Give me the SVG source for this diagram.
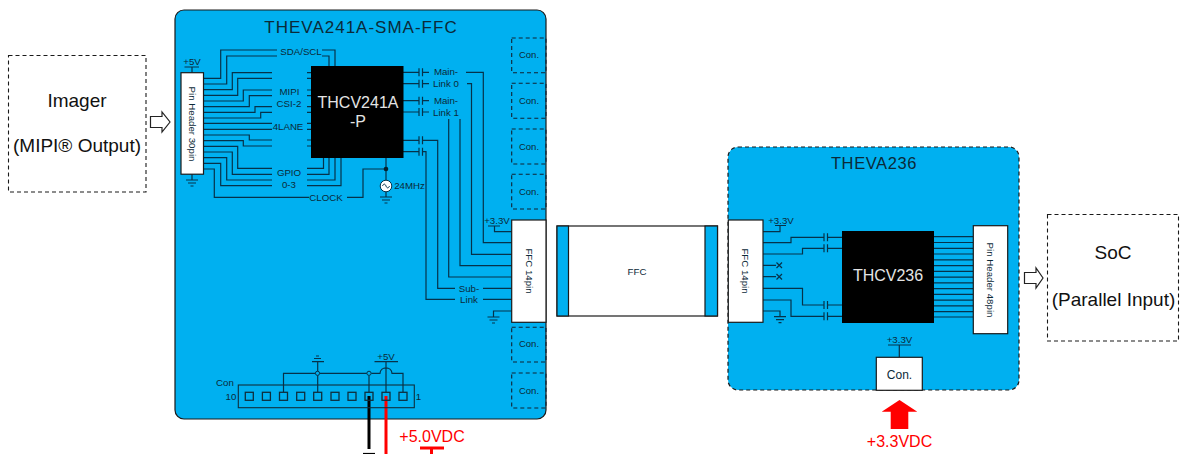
<svg xmlns="http://www.w3.org/2000/svg" width="1180" height="454" viewBox="0 0 1180 454">
<style>
text{font-family:"Liberation Sans",Arial,sans-serif;fill:#0b2a38;text-anchor:middle}
.t8{font-size:9.500px}.t9{font-size:9.700px}
.big{font-size:19px;fill:#111}
.chip{font-size:16px;fill:#e4e4e4}
.title{font-size:17px;fill:#0b2a38;letter-spacing:1px}
.red{font-size:16px;fill:#f00}
.w{fill:none;stroke:#06324a;stroke-width:1.200}
.box{fill:#fff;stroke:#1a1a1a;stroke-width:1.200}
.dash{fill:none;stroke:#1a1a1a;stroke-width:1.100;stroke-dasharray:4 3}
.con{fill:none;stroke:#123;stroke-width:1.100;stroke-dasharray:4 3}
.chipb{fill:#000}
.arrow{fill:#fff;stroke:#222;stroke-width:1.200}
</style>
<defs>
<g id="gnd"><path class="w" d="M-6 0H6M-4 3H4M-1.500 6H1.500"/></g>
<g id="cap"><path class="w" d="M0 -4V4M3.500 -4V4"/></g>
</defs>

<g id="imager"><rect class="dash" x="8.500" y="55.500" width="137.500" height="136.500"/><text class="big" x="77" y="107">Imager</text><text class="big" x="77" y="152">(MIPI® Output)</text></g>
<path id="arrow-in" class="arrow" d="M150.500 116.500H162V112L170 122L162 132V127.500H150.500Z"/>

<g id="board-241"><rect x="175" y="10" width="371" height="409" rx="9" fill="#00b0f0" stroke="#1a1a1a" stroke-width="1.200"/><text class="title" x="361" y="33">THEVA241A-SMA-FFC</text></g>
<g id="board-236"><rect x="728" y="147" width="291" height="243" rx="10" fill="#00b0f0" stroke="#1a1a1a" stroke-width="1.200" stroke-dasharray="4 3"/><text class="title" style="font-size:16.500px;letter-spacing:.6px" x="874" y="169">THEVA236</text></g>

<g id="connectors">
<path class="w" d="M203.500 78.300H220.700V50H277M322 50H335V66M203.500 84H226.700V56H277M322 56H329V66"/>
<path class="w" d="M203.500 89.700H232.300V72.700H272M203.500 95.300H237.700V78.300H272M203.500 101H243.300V90H272M203.500 106.700H249.300V95.700H272M203.500 112.300H255V106.700H272M203.500 118H260.700V112.300H272M203.500 123.300H272M203.500 129.300H272M203.500 135H249.300V140H272M203.500 140.700H243.300V146H272M203.500 146.300H237.700V168.300H272M203.500 152H232.300V174.300H272M203.500 157.700H226.700V180H272M203.500 163.300H220.700V185.700H272M203.500 169H214.300V197.300H309"/>
<path class="w" d="M307 72.700H311M307 78.300H311M307 90H311M307 95.700H311M307 106.700H311M307 112.300H311M307 123.300H311M307 129.300H311M307 140H311M307 146H311M307 168.300H323.500V158M307 174.300H329V158M307 180H335V158M307 185.700H341V158"/>
<path class="w" d="M347 197.300H363V169H386M386 158V180M386 192V197"/>
<circle cx="386" cy="169" r="2.300" fill="#06222f"/>
<path class="w" d="M403 72.300H419M403 83.700H419M403 100.700H419M403 112H419M403 140.300H419M403 151.700H419"/>
<use href="#cap" x="419" y="72.300"/><use href="#cap" x="419" y="83.700"/><use href="#cap" x="419" y="100.700"/><use href="#cap" x="419" y="112"/><use href="#cap" x="419" y="140.300"/><use href="#cap" x="419" y="151.700"/>
<path class="w" d="M422.500 72.300H429M422.500 83.700H429M422.500 100.700H429M422.500 112H429"/>
<path class="w" d="M466 72.300H483.300V242.700H512M467 83.700H471.500V254.300H512M460 119V265.700H512M448.700 119V277H512"/>
<path class="w" d="M422.500 140.300H437.700V288.300H455M483 288.300H512M422.500 151.700H426V299.300H455M483 299.300H512"/>
<path class="w" d="M488 226H500M494.500 226V231.700H512M512 311H493.500V317"/>
<use href="#gnd" x="493.500" y="317"/>
<use href="#gnd" x="386" y="197"/>
<use href="#gnd" x="192" y="180"/>
<path class="w" d="M192 174V180M184.500 67H199M192 67V72.500"/>

<path class="w" d="M283.500 392V373.300H367M371.200 373.300H380C380.500 366 391.500 366 392 373.300H403V392M317.700 392V362M312 361.700H324M369 375.500V392M386 362V392M374.500 361.700H398"/>
<circle cx="317.500" cy="373.300" r="2.100" fill="#00b0f0" stroke="#06324a"/>
<circle cx="369" cy="373.300" r="2.100" fill="#00b0f0" stroke="#06324a"/>
<path class="w" d="M314 358.500H321M316 356H319"/>
<path d="M369 396V449" stroke="#000" stroke-width="3" fill="none"/>
<path d="M363 453.500H375" stroke="#000" stroke-width="1.200" fill="none"/>
<path d="M386 396V454" stroke="#f00" stroke-width="3" fill="none"/>
<path d="M420 448H444M431.500 448V454" stroke="#f00" stroke-width="3" fill="none"/>

<path class="w" d="M763 231.700H780V226M775 225.500H786M763 242.700H791V237.300H824M827.500 237.300H842M763 254H802.500V248.300H824M827.500 248.300H842M763 265.300H776M763 276.700H776M763 288.300H802.500V305H824M827.500 305H842M763 300H791V316.300H824M827.500 316.300H842M763 311H780V316.500"/>
<use href="#gnd" x="780" y="316.700"/>
<use href="#cap" x="824" y="237.300"/><use href="#cap" x="824" y="248.300"/><use href="#cap" x="824" y="305"/><use href="#cap" x="824" y="316.300"/>
<path class="w" d="M776.500 262.500L782 268M782 262.500L776.500 268M776.500 274L782 279.500M782 274L776.500 279.500"/>
<path class="w" d="M934 236.700H973M934 242.500H973M934 248.300H973M934 254H973M934 259.800H973M934 265.600H973M934 271.300H973M934 277.100H973M934 282.900H973M934 288.600H973M934 294.400H973M934 300.200H973M934 305.900H973M934 311.700H973M934 317H973"/>
<path class="w" d="M888 345H911M899.300 345V357"/>
</g>

<g id="pin-header-30"><rect class="box" x="181" y="72.700" width="22.500" height="101.500"/><text class="t9" transform="translate(188.500 124) rotate(90)">Pin Header 30pin</text><text class="t9" x="192" y="64.500">+5V</text></g>
<g id="chip-241"><rect class="chipb" x="311" y="66" width="92.500" height="92"/><text class="chip" x="358" y="108">THCV241A</text><text class="chip" x="358" y="127">-P</text></g>
<g id="labels-241">
<text class="t9" x="301" y="54.500">SDA/SCL</text>
<text class="t9" x="289.500" y="95">MIPI</text><text class="t9" x="289" y="106.500">CSI-2</text><text class="t9" x="288" y="130">4LANE</text>
<text class="t9" x="289" y="176">GPIO</text><text class="t9" x="289" y="187.500">0-3</text><text class="t9" x="326" y="201">CLOCK</text>
<text class="t9" x="446" y="75">Main-</text><text class="t9" x="446" y="87">Link 0</text><text class="t9" x="446" y="104">Main-</text><text class="t9" x="446" y="116">Link 1</text>
<text class="t9" x="469" y="291.500">Sub-</text><text class="t9" x="469" y="302.500">Link</text>
<text class="t9" x="497" y="224">+3.3V</text>
<text class="t9" x="386" y="360">+5V</text>
<text class="t9" x="225" y="386">Con</text><text class="t9" x="231" y="400">10</text><text class="t9" x="418.500" y="400">1</text>
</g>
<g id="crystal"><circle cx="386" cy="186" r="5.800" fill="#fff" stroke="#06324a"/><path d="M382.500 186C383.500 183.500 385 183.500 386 186S388.500 188.500 389.500 186" fill="none" stroke="#06324a"/><text class="t9" x="409.500" y="189">24MHz</text></g>
<g id="cons-241">
<g id="con-1"><rect class="con" x="511.700" y="38" width="34.300" height="34.700"/><text class="t8" x="529" y="58">Con.</text></g>
<g id="con-2"><rect class="con" x="511.700" y="83.300" width="34.300" height="35"/><text class="t8" x="529" y="104">Con.</text></g>
<g id="con-3"><rect class="con" x="511.700" y="129" width="34.300" height="35"/><text class="t8" x="529" y="150">Con.</text></g>
<g id="con-4"><rect class="con" x="511.700" y="174.300" width="34.300" height="34.700"/><text class="t8" x="529" y="195">Con.</text></g>
<g id="con-5"><rect class="con" x="511.700" y="327.300" width="34.300" height="34.700"/><text class="t8" x="529" y="347">Con.</text></g>
<g id="con-6"><rect class="con" x="511.700" y="373" width="34.300" height="35"/><text class="t8" x="529" y="394">Con.</text></g>
</g>
<g id="ffc-241"><rect class="box" x="511.700" y="220" width="34.300" height="102.300"/><text class="t9" transform="translate(525.500 271) rotate(90)">FFC 14pin</text></g>
<g id="con-10pin"><rect fill="none" stroke="#0f2f3d" stroke-width="1.100" x="238.300" y="385" width="176" height="22.700"/>
<g fill="none" stroke="#0f2f3d" stroke-width="1.300"><rect x="245.300" y="392.300" width="8" height="8"/><rect x="262.400" y="392.300" width="8" height="8"/><rect x="279.500" y="392.300" width="8" height="8"/><rect x="296.700" y="392.300" width="8" height="8"/><rect x="313.700" y="392.300" width="8" height="8"/><rect x="331" y="392.300" width="8" height="8"/><rect x="348" y="392.300" width="8" height="8"/><rect x="365" y="392.300" width="8" height="8"/><rect x="382" y="392.300" width="8" height="8"/><rect x="399" y="392.300" width="8" height="8"/></g></g>
<text class="red" x="432" y="442">+5.0VDC</text>

<g id="ffc-cable"><rect class="box" x="557" y="226" width="160.500" height="90"/><rect x="557" y="226" width="11.500" height="90" fill="#00b0f0" stroke="#1a1a1a" stroke-width="1.200"/><rect x="705" y="226" width="12.500" height="90" fill="#00b0f0" stroke="#1a1a1a" stroke-width="1.200"/><text class="t9" x="637" y="275">FFC</text></g>

<g id="ffc-236"><rect class="box" x="728.300" y="220" width="34.700" height="102.300"/><text class="t9" transform="translate(742 271) rotate(90)">FFC 14pin</text><text class="t9" x="781" y="223.500">+3.3V</text></g>
<g id="chip-236"><rect class="chipb" x="842" y="231" width="92" height="92"/><text class="chip" x="888" y="281">THCV236</text></g>
<g id="pin-header-48"><rect class="box" x="973.300" y="225.700" width="34.400" height="108"/><text class="t9" transform="translate(987 280) rotate(90)">Pin Header 48pin</text></g>
<g id="con-power"><rect class="box" x="876.300" y="357.300" width="46" height="33"/><text style="font-size:12px" x="899.500" y="379">Con.</text><text class="t9" x="899.500" y="343">+3.3V</text></g>
<path id="arrow-power" d="M899.500 400L917.300 411.700H908.300V429H890.700V411.700H881.700Z" fill="#f00"/>
<text class="red" x="899.500" y="447">+3.3VDC</text>
<path id="arrow-out" class="arrow" d="M1024.500 272.500H1036V268L1043 278L1036 288V283.500H1024.500Z"/>
<g id="soc"><rect class="dash" x="1047.500" y="214.500" width="131" height="126.500"/><text class="big" x="1113" y="259">SoC</text><text class="big" x="1113.500" y="306">(Parallel Input)</text></g>
</svg>
